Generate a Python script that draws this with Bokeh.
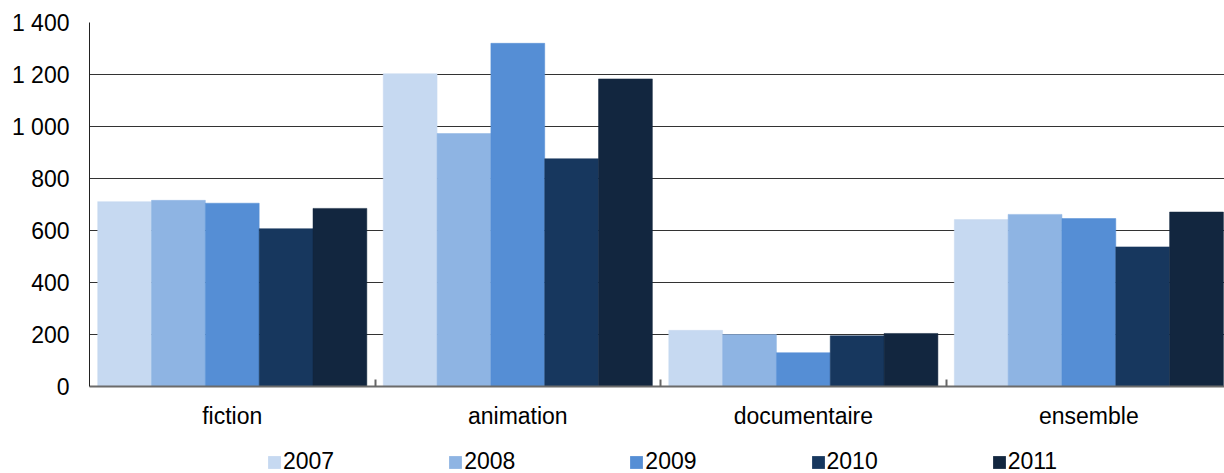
import numpy as np
from bokeh.plotting import figure
from bokeh.layouts import column
from bokeh.models import Range1d, FixedTicker, Legend, LegendItem, ColumnDataSource
from bokeh.embed import file_html
from bokeh.resources import INLINE

# Categories and yearly series
categories = ["fiction", "animation", "documentaire", "ensemble"]
years = ["2007", "2008", "2009", "2010", "2011"]
values_2007 = [711, 1203, 216, 642]
values_2008 = [716, 973, 200, 662]
values_2009 = [705, 1320, 130, 646]
values_2010 = [607, 876, 195, 537]
values_2011 = [685, 1183, 204, 671]
series = [values_2007, values_2008, values_2009, values_2010, values_2011]
colors = ["#C6D9F1", "#8EB4E3", "#558ED5", "#17375E", "#12263F"]

y_ticks = [0, 200, 400, 600, 800, 1000, 1200, 1400]
y_tick_labels = ["0", "200", "400", "600", "800", "1 000", "1 200", "1 400"]

FONT = "Liberation Sans"
n_cat = len(categories)
bar_w = 0.1885
centers = np.arange(n_cat) + 0.5

# ---- main chart ----
p = figure(
    frame_width=1135, frame_height=364,
    min_border_left=89, min_border_right=0, min_border_top=22, min_border_bottom=0,
    x_range=Range1d(0, 3.975), y_range=Range1d(0, 1400),
    output_backend="svg", toolbar_location=None,
    background_fill_color="white", border_fill_color="white",
)
p.outline_line_color = None

for i, (yr, vals, col) in enumerate(zip(years, series, colors)):
    src = ColumnDataSource(dict(x=centers + (i - 2) * bar_w, top=vals))
    p.vbar(x="x", top="top", bottom=0, width=bar_w, source=src,
           fill_color=col, line_color=col, line_width=0.5)

# y axis
p.yaxis.ticker = FixedTicker(ticks=y_ticks)
p.yaxis.major_label_overrides = {t: l for t, l in zip(y_ticks, y_tick_labels)}
p.yaxis.major_label_text_font = FONT
p.yaxis.major_label_text_font_size = "23px"
p.yaxis.major_label_text_color = "black"
p.yaxis.major_label_standoff = 20
p.yaxis.major_tick_out = 0
p.yaxis.major_tick_in = 0
p.yaxis.minor_tick_out = 0
p.yaxis.minor_tick_in = 0
p.yaxis.axis_line_color = "#222222"
p.yaxis.axis_line_width = 1

# x axis: category labels at centres, small marks at the boundaries
p.xaxis.ticker = FixedTicker(ticks=list(centers), minor_ticks=list(np.arange(1, n_cat)))
p.xaxis.major_label_overrides = {float(c): name for c, name in zip(centers, categories)}
p.xaxis.major_label_text_font = FONT
p.xaxis.major_label_text_font_size = "23px"
p.xaxis.major_label_text_color = "black"
p.xaxis.major_label_standoff = 16
p.xaxis.major_tick_out = 0
p.xaxis.major_tick_in = 0
p.xaxis.minor_tick_in = 7
p.xaxis.minor_tick_out = 0
p.xaxis.minor_tick_line_color = "#666666"
p.xaxis.minor_tick_line_width = 2
p.xaxis.axis_line_color = "#6b6b6b"
p.xaxis.axis_line_width = 2

p.xgrid.grid_line_color = None
p.ygrid.grid_line_color = "#333333"
p.ygrid.grid_line_width = 1

# ---- legend strip under the chart (frame aligned with the chart's frame) ----
leg = figure(
    frame_width=1135, height=44,
    min_border_left=89, min_border_right=0, min_border_top=0, min_border_bottom=0,
    x_axis_type=None, y_axis_type=None,
    x_range=Range1d(0, 1), y_range=Range1d(0, 1),
    output_backend="svg", toolbar_location=None,
    background_fill_color="white", border_fill_color="white",
)
leg.outline_line_color = None
leg.xgrid.visible = False
leg.ygrid.visible = False

items = []
for yr, col in zip(years, colors):
    # zero-size swatch bar: only its legend entry is visible
    r = leg.vbar(x=[0.5], top=[0], bottom=0, width=0, fill_color=col, line_color=None)
    items.append(LegendItem(label=yr, renderers=[r]))

legend = Legend(
    items=items,
    orientation="horizontal",
    location=(177, 0),
    glyph_width=16, glyph_height=16,
    label_standoff=1, spacing=113, padding=0, margin=0,
    border_line_color=None, background_fill_alpha=0,
    label_text_font=FONT, label_text_font_size="23px", label_text_color="black",
)
leg.add_layout(legend, "center")

layout = column(p, leg, spacing=0)
open("out.html", "w").write(file_html(layout, INLINE))
